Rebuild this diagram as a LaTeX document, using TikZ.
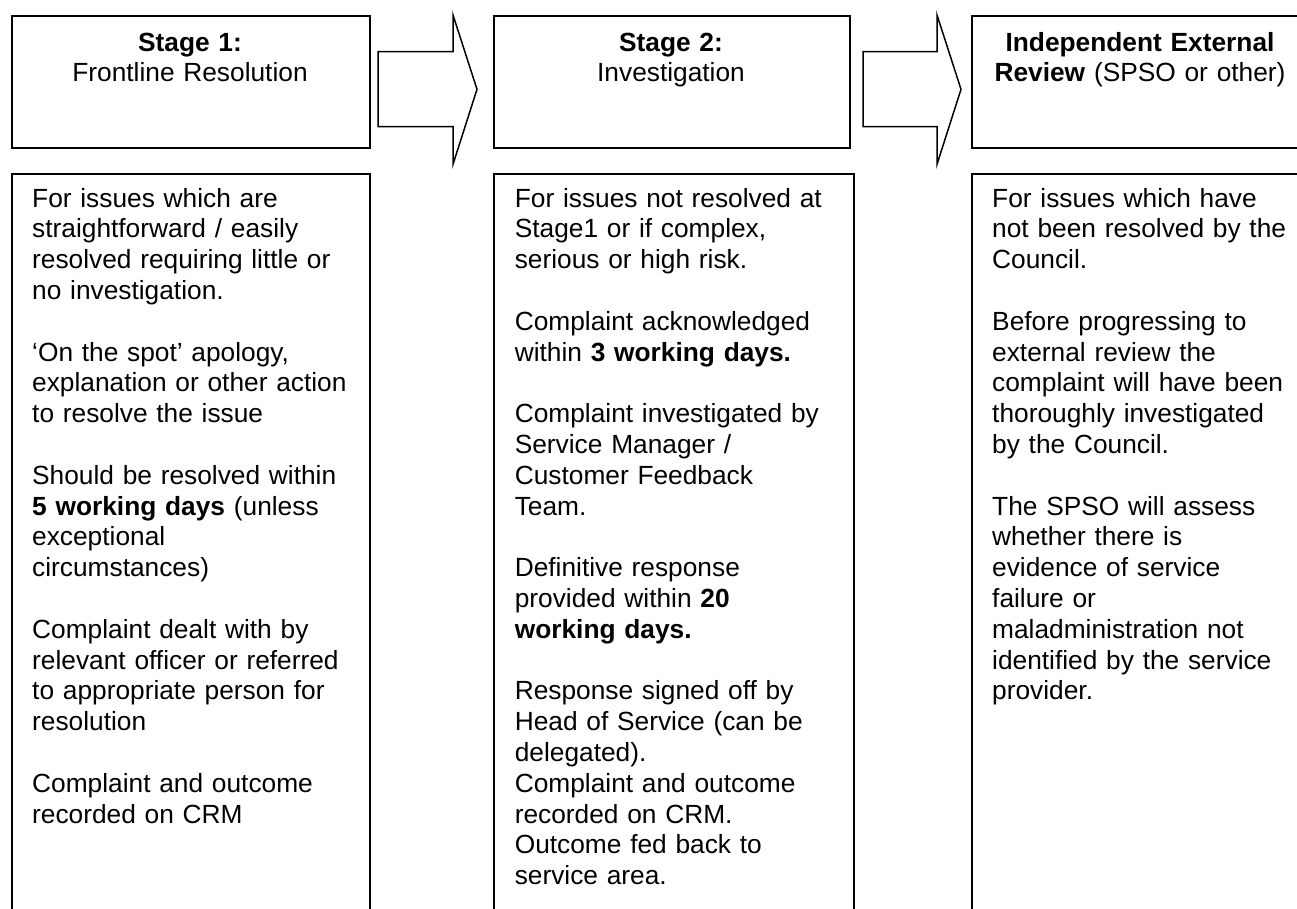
\documentclass[tikz,border=0pt]{standalone}
\usepackage{fontspec}
\setmainfont{Liberation Sans}
\begin{document}
\begin{tikzpicture}[x=1pt,y=-1pt,
  frame/.style={draw=black, line width=1.8pt, inner sep=0pt, anchor=north west},
  blockarrow/.style={draw=black, line width=1.5pt, line join=miter, fill=white},
  headtext/.style={font=\fontsize{26.3}{30.8}\selectfont, align=center, inner sep=0pt, anchor=base},
  bodytext/.style={font=\fontsize{26.3}{30.8}\selectfont, align=left, text width=340pt, inner sep=0pt, anchor=base west}]
\useasboundingbox (0,0) rectangle (1297,908);
\clip (0,0) rectangle (1297,908);
\fill[white] (0,0) rectangle (1297,908);
% header boxes
\node[frame, minimum width=358pt, minimum height=132pt] (h1) at (11,15) {};
\node[frame, minimum width=356pt, minimum height=132pt] (h2) at (493,15) {};
\node[frame, minimum width=338pt, minimum height=132pt] (h3) at (971,15) {};
% body boxes
\node[frame, minimum width=358pt, minimum height=760pt] (b1) at (11,173) {};
\node[frame, minimum width=360pt, minimum height=760pt] (b2) at (493,173) {};
\node[frame, minimum width=338pt, minimum height=760pt] (b3) at (971,173) {};
% block arrows
\draw[blockarrow] (378,51.7) -- (453,51.7) -- (453,15) -- (477,89.3) -- (453,164.3) -- (453,126.7) -- (378,126.7) -- cycle;
\draw[blockarrow] (863,51.7) -- (937,51.7) -- (937,15) -- (961,89.3) -- (937,164.3) -- (937,126.7) -- (863,126.7) -- cycle;
% header texts
\node[headtext, text width=358pt] (t1) at (190,51) {\textbf{Stage 1:}\\Frontline Resolution};
\node[headtext, text width=356pt] (t2) at (671,51) {\textbf{Stage 2:}\\Investigation};
\node[headtext, text width=338pt] (t3) at (1140,51) {\textbf{Independent External}\\\textbf{Review} (SPSO or other)};
% body texts
\node[bodytext] (x1) at (32,207) {For issues which are\\
straightforward / easily\\
resolved requiring little or\\
no investigation.\\[30.8pt]
‘On the spot’ apology,\\
explanation or other action\\
to resolve the issue\\[30.8pt]
Should be resolved within\\
\textbf{5 working days} (unless\\
exceptional\\
circumstances)\\[30.8pt]
Complaint dealt with by\\
relevant officer or referred\\
to appropriate person for\\
resolution\\[30.8pt]
Complaint and outcome\\
recorded on CRM};
\node[bodytext] (x2) at (514.6,207) {For issues not resolved at\\
Stage1 or if complex,\\
serious or high risk.\\[30.8pt]
Complaint acknowledged\\
within \textbf{3 working days.}\\[30.8pt]
Complaint investigated by\\
Service Manager /\\
Customer Feedback\\
Team.\\[30.8pt]
Definitive response\\
provided within \textbf{20}\\
\textbf{working days.}\\[30.8pt]
Response signed off by\\
Head of Service (can be\\
delegated).\\
Complaint and outcome\\
recorded on CRM.\\
Outcome fed back to\\
service area.};
\node[bodytext] (x3) at (992,207) {For issues which have\\
not been resolved by the\\
Council.\\[30.8pt]
Before progressing to\\
external review the\\
complaint will have been\\
thoroughly investigated\\
by the Council.\\[30.8pt]
The SPSO will assess\\
whether there is\\
evidence of service\\
failure or\\
maladministration not\\
identified by the service\\
provider.};
\end{tikzpicture}
\end{document}
